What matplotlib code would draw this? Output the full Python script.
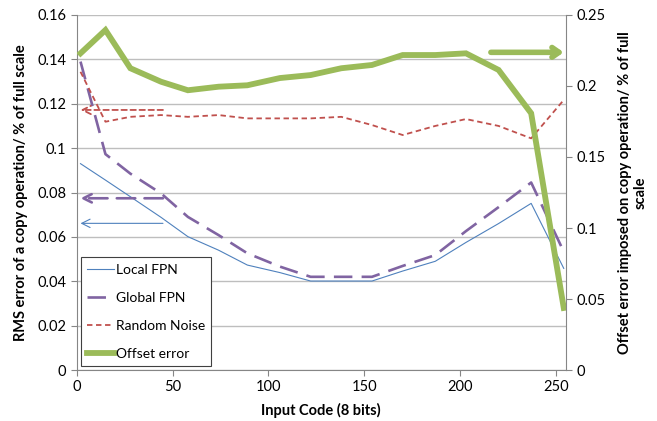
import matplotlib
matplotlib.use("Agg")
import matplotlib.pyplot as plt

plt.rcParams['font.family'] = ['Lato', 'DejaVu Sans']
plt.rcParams['font.size'] = 10

# input codes at which the error was measured
codes = [2, 15, 28, 44, 58, 74, 89, 106, 122, 138, 154, 170, 187, 203, 220, 237, 254]

local_fpn = [0.093, 0.0856, 0.0781, 0.0688, 0.0601, 0.054, 0.0473, 0.0439, 0.0401,
             0.0401, 0.0401, 0.0446, 0.049, 0.0575, 0.066, 0.0751, 0.0458]
global_fpn = [0.139, 0.0973, 0.0885, 0.0796, 0.069, 0.0608, 0.0526, 0.0466, 0.042,
              0.042, 0.042, 0.0469, 0.0518, 0.0626, 0.0734, 0.0845, 0.0533]
random_noise = [0.1344, 0.1119, 0.1141, 0.1149, 0.1141, 0.1149, 0.1134, 0.1134, 0.1134,
                0.1141, 0.1104, 0.1059, 0.110, 0.1131, 0.110, 0.1044, 0.1217]
offset_err = [0.223, 0.2394, 0.2125, 0.203, 0.197, 0.1995, 0.2005, 0.2056, 0.2077,
              0.2125, 0.2148, 0.2218, 0.2218, 0.223, 0.2113, 0.1808, 0.0437]

#* arrows telling which axis a curve belongs to: (x_from, x_to, y)
arrow_noise = (45, 2, 0.1172)
arrow_global = (45, 2, 0.0774)
arrow_local = (45, 2, 0.0661)
arrow_offset = (216, 254, 0.2237)

c_local = '#4F81BD'
c_global = '#8064A2'
c_noise = '#C0504D'
c_offset = '#9BBB59'
c_grid = '#BEBEBE'
c_axis = '#868686'

fig = plt.figure(figsize=(6.57, 4.21), dpi=100)
ax = fig.add_axes([0.1167, 0.1211, 0.7443, 0.8433])
ax2 = ax.twinx()

ax.plot(codes, local_fpn, color=c_local, lw=0.8, label='Local FPN')
ax.plot(codes, global_fpn, color=c_global, lw=1.9, dashes=(7, 3.5), label='Global FPN')
ax.plot(codes, random_noise, color=c_noise, lw=1.3, dashes=(3, 2), label='Random Noise')
ax2.plot(codes, offset_err, color=c_offset, lw=4.2, solid_joinstyle='miter', label='Offset error')

def arrow(axis, spec, color, lw, ls, hl=0.6, hw=0.3):
    x0, x1, y = spec
    axis.annotate('', xy=(x1, y), xytext=(x0, y),
                  arrowprops=dict(arrowstyle='->,head_length={},head_width={}'.format(hl, hw),
                                  color=color, lw=lw, ls=ls, shrinkA=0, shrinkB=0))

arrow(ax, arrow_noise, c_noise, 1.3, (0, (3, 2)))
arrow(ax, arrow_global, c_global, 1.9, (0, (7, 3.5)))
arrow(ax, arrow_local, c_local, 0.8, '-')
arrow(ax2, arrow_offset, c_offset, 4.0, '-', hl=0.5, hw=0.35)

ax.set_xlim(0, 255)
ax.set_ylim(0, 0.16)
ax2.set_ylim(0, 0.25)
ax.set_xticks([0, 50, 100, 150, 200, 250])
ax.set_yticks([0, 0.02, 0.04, 0.06, 0.08, 0.1, 0.12, 0.14, 0.16])
ax.set_yticklabels(['0', '0.02', '0.04', '0.06', '0.08', '0.1', '0.12', '0.14', '0.16'])
ax2.set_yticks([0, 0.05, 0.1, 0.15, 0.2, 0.25])
ax2.set_yticklabels(['0', '0.05', '0.1', '0.15', '0.2', '0.25'])

ax.grid(axis='y', color=c_grid, lw=1.0)
ax.set_axisbelow(True)
for a in (ax, ax2):
    a.spines['top'].set_visible(False)
    for s in ('left', 'right', 'bottom'):
        a.spines[s].set_color(c_axis)
    a.tick_params(colors=c_axis, labelcolor='black', length=4, labelsize=10.5)
ax.spines['right'].set_visible(False)
ax2.spines['left'].set_visible(False)
ax2.spines['bottom'].set_visible(False)

ax.set_xlabel('Input Code (8 bits)', fontweight='bold', fontsize=10.5, labelpad=6)
ax.set_ylabel('RMS error of a copy operation/ % of full scale', fontweight='bold',
              fontsize=10.5, labelpad=7)
ax2.set_ylabel('Offset error imposed on copy operation/ % of full\nscale', fontweight='bold',
               fontsize=10.5, labelpad=9, ha='center', multialignment='center')

h1, l1 = ax.get_legend_handles_labels()
h2, l2 = ax2.get_legend_handles_labels()
leg = ax2.legend(h1 + h2, l1 + l2, loc='lower left', bbox_to_anchor=(0.009, 0.012),
                 borderaxespad=0, fancybox=False, framealpha=1, edgecolor='#404040',
                 handlelength=1.9, handletextpad=0.15, labelspacing=1.15, borderpad=0.45,
                 fontsize=10)
leg.get_frame().set_linewidth(0.8)

fig.savefig('out.png', dpi=100)
